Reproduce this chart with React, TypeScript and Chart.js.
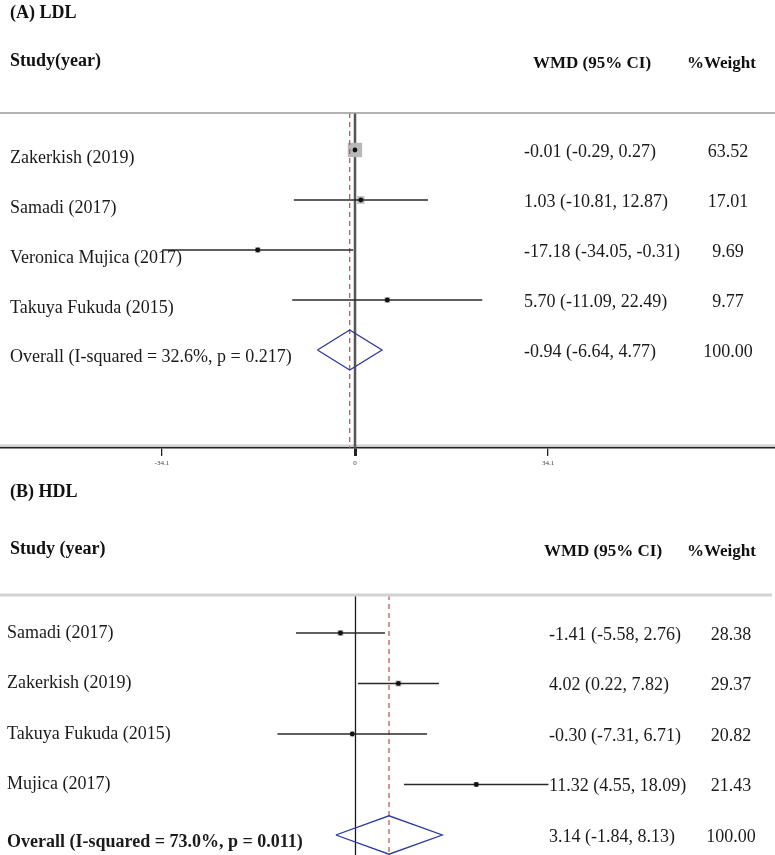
import { useEffect, useRef } from 'react';
import { Chart, registerables } from 'chart.js';

Chart.register(...registerables);

const SERIF = '"Liberation Serif", "Times New Roman", serif';

// ---------- (A) LDL ----------
const LDL_TITLE = '(A) LDL';
const LDL_STUDY_HEADER = 'Study(year)';
const LDL_STUDIES = ['Zakerkish (2019)', 'Samadi (2017)', 'Veronica Mujica (2017)', 'Takuya Fukuda (2015)'];
const LDL_WMD = [-0.01, 1.03, -17.18, 5.7];
const LDL_LOWER = [-0.29, -10.81, -34.05, -11.09];
const LDL_UPPER = [0.27, 12.87, -0.31, 22.49];
const LDL_WEIGHT = [63.52, 17.01, 9.69, 9.77];
const LDL_OVERALL_LABEL = 'Overall (I-squared = 32.6%, p = 0.217)';
const LDL_OVERALL = [-0.94, -6.64, 4.77]; // estimate, lower, upper
const LDL_OVERALL_WEIGHT = 100.0;
const LDL_TICKS = [-34.1, 0, 34.1];

// ---------- (B) HDL ----------
const HDL_TITLE = '(B) HDL';
const HDL_STUDY_HEADER = 'Study (year)';
const HDL_STUDIES = ['Samadi (2017)', 'Zakerkish (2019)', 'Takuya Fukuda (2015)', 'Mujica (2017)'];
const HDL_WMD = [-1.41, 4.02, -0.3, 11.32];
const HDL_LOWER = [-5.58, 0.22, -7.31, 4.55];
const HDL_UPPER = [2.76, 7.82, 6.71, 18.09];
const HDL_WEIGHT = [28.38, 29.37, 20.82, 21.43];
const HDL_OVERALL_LABEL = 'Overall (I-squared = 73.0%, p = 0.011)';
const HDL_OVERALL = [3.14, -1.84, 8.13];
const HDL_OVERALL_WEIGHT = 100.0;

const WMD_HEADER = 'WMD (95% CI)';
const WEIGHT_HEADER = '%Weight';

type PanelData = {
  title: string;
  studyHeader: string;
  studies: string[];
  wmd: number[];
  lower: number[];
  upper: number[];
  weight: number[];
  overallLabel: string;
  overall: number[];
  overallWeight: number;
  ticks: number[] | null;
};

type PanelLayout = {
  height: number;
  xMin: number;
  xMax: number;
  yMin: number;
  yMax: number;
  axisHeight: number;
  headerLineY: number;
  headerLineRight: number;
  headerLineColor: string;
  headerLineWidth: number;
  refTop: number;
  titleY: number;
  studyHeaderY: number;
  colHeaderY: number;
  wmdHeaderX: number;
  weightHeaderX: number;
  labelX: number;
  labelDy: number;
  overallDy: number;
  wmdX: number;
  weightX: number;
  rightDy: number;
  boxK: number;
  diamondHalf: number;
  nullColor: string;
  nullWidth: number;
  overallBold: boolean;
};

const fmt = (v: number) => v.toFixed(2);

function ForestPanel({ data, layout }: { data: PanelData; layout: PanelLayout }) {
  const ref = useRef<HTMLCanvasElement | null>(null);

  useEffect(() => {
    const canvas = ref.current;
    if (!canvas) return;
    const n = data.studies.length;
    const [oEst, oLo, oHi] = data.overall;

    const datasets: any[] = [];
    // weight boxes
    datasets.push({
      data: data.wmd.map((v, i) => ({ x: v, y: i })),
      pointStyle: 'rect',
      pointRadius: data.weight.map((w) => (layout.boxK * Math.sqrt(w)) / Math.SQRT2),
      pointBackgroundColor: '#b8b8b8',
      pointBorderWidth: 0,
      showLine: false,
      order: 3,
    });
    // confidence intervals
    data.wmd.forEach((_, i) => {
      datasets.push({
        data: [
          { x: data.lower[i], y: i },
          { x: data.upper[i], y: i },
        ],
        showLine: true,
        borderColor: '#2a2a2a',
        borderWidth: 1.5,
        pointRadius: 0,
        order: 1,
      });
    });
    // point estimates
    datasets.push({
      data: data.wmd.map((v, i) => ({ x: v, y: i })),
      pointStyle: 'circle',
      pointRadius: 2.4,
      pointBackgroundColor: '#111',
      pointBorderWidth: 0,
      showLine: false,
      order: 0,
    });
    // overall diamond
    datasets.push({
      data: [
        { x: oLo, y: n },
        { x: oEst, y: n - layout.diamondHalf },
        { x: oHi, y: n },
        { x: oEst, y: n + layout.diamondHalf },
        { x: oLo, y: n },
      ],
      showLine: true,
      borderColor: '#2c3a9c',
      borderWidth: 1.3,
      borderJoinStyle: 'miter',
      pointRadius: 0,
      order: 1,
    });
    // null line
    datasets.push({
      data: [
        { x: 0, y: layout.refTop },
        { x: 0, y: layout.yMax },
      ],
      showLine: true,
      borderColor: layout.nullColor,
      borderWidth: layout.nullWidth,
      pointRadius: 0,
      order: 4,
    });
    // overall estimate dashed line
    datasets.push({
      data: [
        { x: oEst, y: layout.refTop },
        { x: oEst, y: layout.yMax },
      ],
      showLine: true,
      borderColor: '#c25a5a',
      borderWidth: 1.3,
      borderDash: [5, 4],
      pointRadius: 0,
      order: 2,
    });

    const textPlugin = {
      id: 'forestText',
      beforeDraw(chart: any) {
        if (!data.ticks) return;
        const c = chart.ctx;
        const yb = chart.chartArea.bottom;
        c.save();
        c.strokeStyle = '#cfcfcf';
        c.lineWidth = 3;
        c.beginPath();
        c.moveTo(0, yb - 2);
        c.lineTo(chart.width, yb - 2);
        c.stroke();
        c.restore();
      },
      afterDraw(chart: any) {
        const c = chart.ctx;
        const ys = chart.scales.y;
        c.save();
        c.fillStyle = '#111';
        c.textBaseline = 'middle';
        // titles and headers
        c.textAlign = 'left';
        c.font = `bold 18px ${SERIF}`;
        c.fillText(data.title, 10, layout.titleY);
        c.fillText(data.studyHeader, 10, layout.studyHeaderY);
        c.font = `bold 17px ${SERIF}`;
        c.fillText(WMD_HEADER, layout.wmdHeaderX, layout.colHeaderY);
        c.fillText(WEIGHT_HEADER, layout.weightHeaderX, layout.colHeaderY);
        // header rule
        c.strokeStyle = layout.headerLineColor;
        c.lineWidth = layout.headerLineWidth;
        c.beginPath();
        c.moveTo(0, layout.headerLineY);
        c.lineTo(layout.headerLineRight, layout.headerLineY);
        c.stroke();
        // study rows
        c.fillStyle = '#1a1a1a';
        c.font = `18px ${SERIF}`;
        data.studies.forEach((s, i) => {
          const py = ys.getPixelForValue(i);
          c.textAlign = 'left';
          c.fillText(s, layout.labelX, py + layout.labelDy);
          c.fillText(
            `${fmt(data.wmd[i])} (${fmt(data.lower[i])}, ${fmt(data.upper[i])})`,
            layout.wmdX,
            py + layout.rightDy
          );
          c.textAlign = 'center';
          c.fillText(fmt(data.weight[i]), layout.weightX, py + layout.rightDy);
        });
        // overall row
        const py = ys.getPixelForValue(n);
        c.textAlign = 'left';
        c.font = `${layout.overallBold ? 'bold ' : ''}18px ${SERIF}`;
        c.fillText(data.overallLabel, layout.labelX, py + layout.overallDy);
        c.font = `18px ${SERIF}`;
        c.fillText(`${fmt(oEst)} (${fmt(oLo)}, ${fmt(oHi)})`, layout.wmdX, py + layout.rightDy);
        c.textAlign = 'center';
        c.fillText(fmt(data.overallWeight), layout.weightX, py + layout.rightDy);
        c.restore();
      },
    };

    const ticks = data.ticks;
    const chart = new Chart(canvas, {
      type: 'scatter',
      data: { datasets },
      options: {
        animation: false,
        responsive: false,
        events: [],
        layout: { padding: 0, autoPadding: false },
        plugins: { legend: { display: false }, tooltip: { enabled: false } },
        scales: {
          x: {
            type: 'linear',
            min: layout.xMin,
            max: layout.xMax,
            display: !!ticks,
            afterBuildTicks: (scale: any) => {
              if (ticks) scale.ticks = ticks.map((v) => ({ value: v }));
            },
            afterFit: (scale: any) => {
              scale.height = layout.axisHeight;
              scale.paddingLeft = 0;
              scale.paddingRight = 0;
              scale.paddingTop = 0;
              scale.paddingBottom = 0;
            },
            border: { display: true, color: '#222', width: 1.5 },
            grid: {
              drawOnChartArea: false,
              drawTicks: true,
              tickLength: 8,
              color: '#222',
              lineWidth: (ctx: any) => (ctx.tick && ctx.tick.value === 0 ? 3 : 1.3),
            },
            ticks: {
              autoSkip: false,
              maxRotation: 0,
              padding: 3,
              color: '#444',
              font: { family: SERIF, size: 7 },
              callback: (v: any) => String(v),
            },
          },
          y: {
            type: 'linear',
            reverse: true,
            min: layout.yMin,
            max: layout.yMax,
            display: false,
          },
        },
      },
      plugins: [textPlugin],
    });
    return () => chart.destroy();
  }, [data, layout]);

  return <canvas ref={ref} width={775} height={layout.height} style={{ display: 'block' }} />;
}

const LDL_DATA: PanelData = {
  title: LDL_TITLE,
  studyHeader: LDL_STUDY_HEADER,
  studies: LDL_STUDIES,
  wmd: LDL_WMD,
  lower: LDL_LOWER,
  upper: LDL_UPPER,
  weight: LDL_WEIGHT,
  overallLabel: LDL_OVERALL_LABEL,
  overall: LDL_OVERALL,
  overallWeight: LDL_OVERALL_WEIGHT,
  ticks: LDL_TICKS,
};

const HDL_DATA: PanelData = {
  title: HDL_TITLE,
  studyHeader: HDL_STUDY_HEADER,
  studies: HDL_STUDIES,
  wmd: HDL_WMD,
  lower: HDL_LOWER,
  upper: HDL_UPPER,
  weight: HDL_WEIGHT,
  overallLabel: HDL_OVERALL_LABEL,
  overall: HDL_OVERALL,
  overallWeight: HDL_OVERALL_WEIGHT,
  ticks: null,
};

const LDL_LAYOUT: PanelLayout = {
  height: 475,
  xMin: -62.72,
  xMax: 74.2,
  yMin: -3,
  yMax: 5.96,
  axisHeight: 27,
  headerLineY: 113,
  headerLineRight: 775,
  headerLineColor: '#9a9a9a',
  headerLineWidth: 1.5,
  refTop: -0.74,
  titleY: 13,
  studyHeaderY: 61,
  colHeaderY: 64,
  wmdHeaderX: 533,
  weightHeaderX: 687,
  labelX: 10,
  labelDy: 8,
  overallDy: 7,
  wmdX: 524,
  weightX: 728,
  rightDy: 2,
  boxK: 1.8,
  diamondHalf: 0.4,
  nullColor: '#555',
  nullWidth: 2.5,
  overallBold: false,
};

const HDL_LAYOUT: PanelLayout = {
  height: 380,
  xMin: -33.32,
  xMax: 39.32,
  yMin: -3.129,
  yMax: 4.396,
  axisHeight: 0,
  headerLineY: 120,
  headerLineRight: 772,
  headerLineColor: '#d2d2d2',
  headerLineWidth: 3,
  refTop: -0.753,
  titleY: 17,
  studyHeaderY: 74,
  colHeaderY: 77,
  wmdHeaderX: 544,
  weightHeaderX: 687,
  labelX: 7,
  labelDy: 0,
  overallDy: 7,
  wmdX: 549,
  weightX: 731,
  rightDy: 2,
  boxK: 1.1,
  diamondHalf: 0.38,
  nullColor: '#1a1a1a',
  nullWidth: 1.3,
  overallBold: true,
};

export default function App() {
  useEffect(() => {
    document.body.style.margin = '0';
  }, []);
  return (
    <div style={{ width: 775, height: 855, background: '#fff' }}>
      <ForestPanel data={LDL_DATA} layout={LDL_LAYOUT} />
      <ForestPanel data={HDL_DATA} layout={HDL_LAYOUT} />
    </div>
  );
}
